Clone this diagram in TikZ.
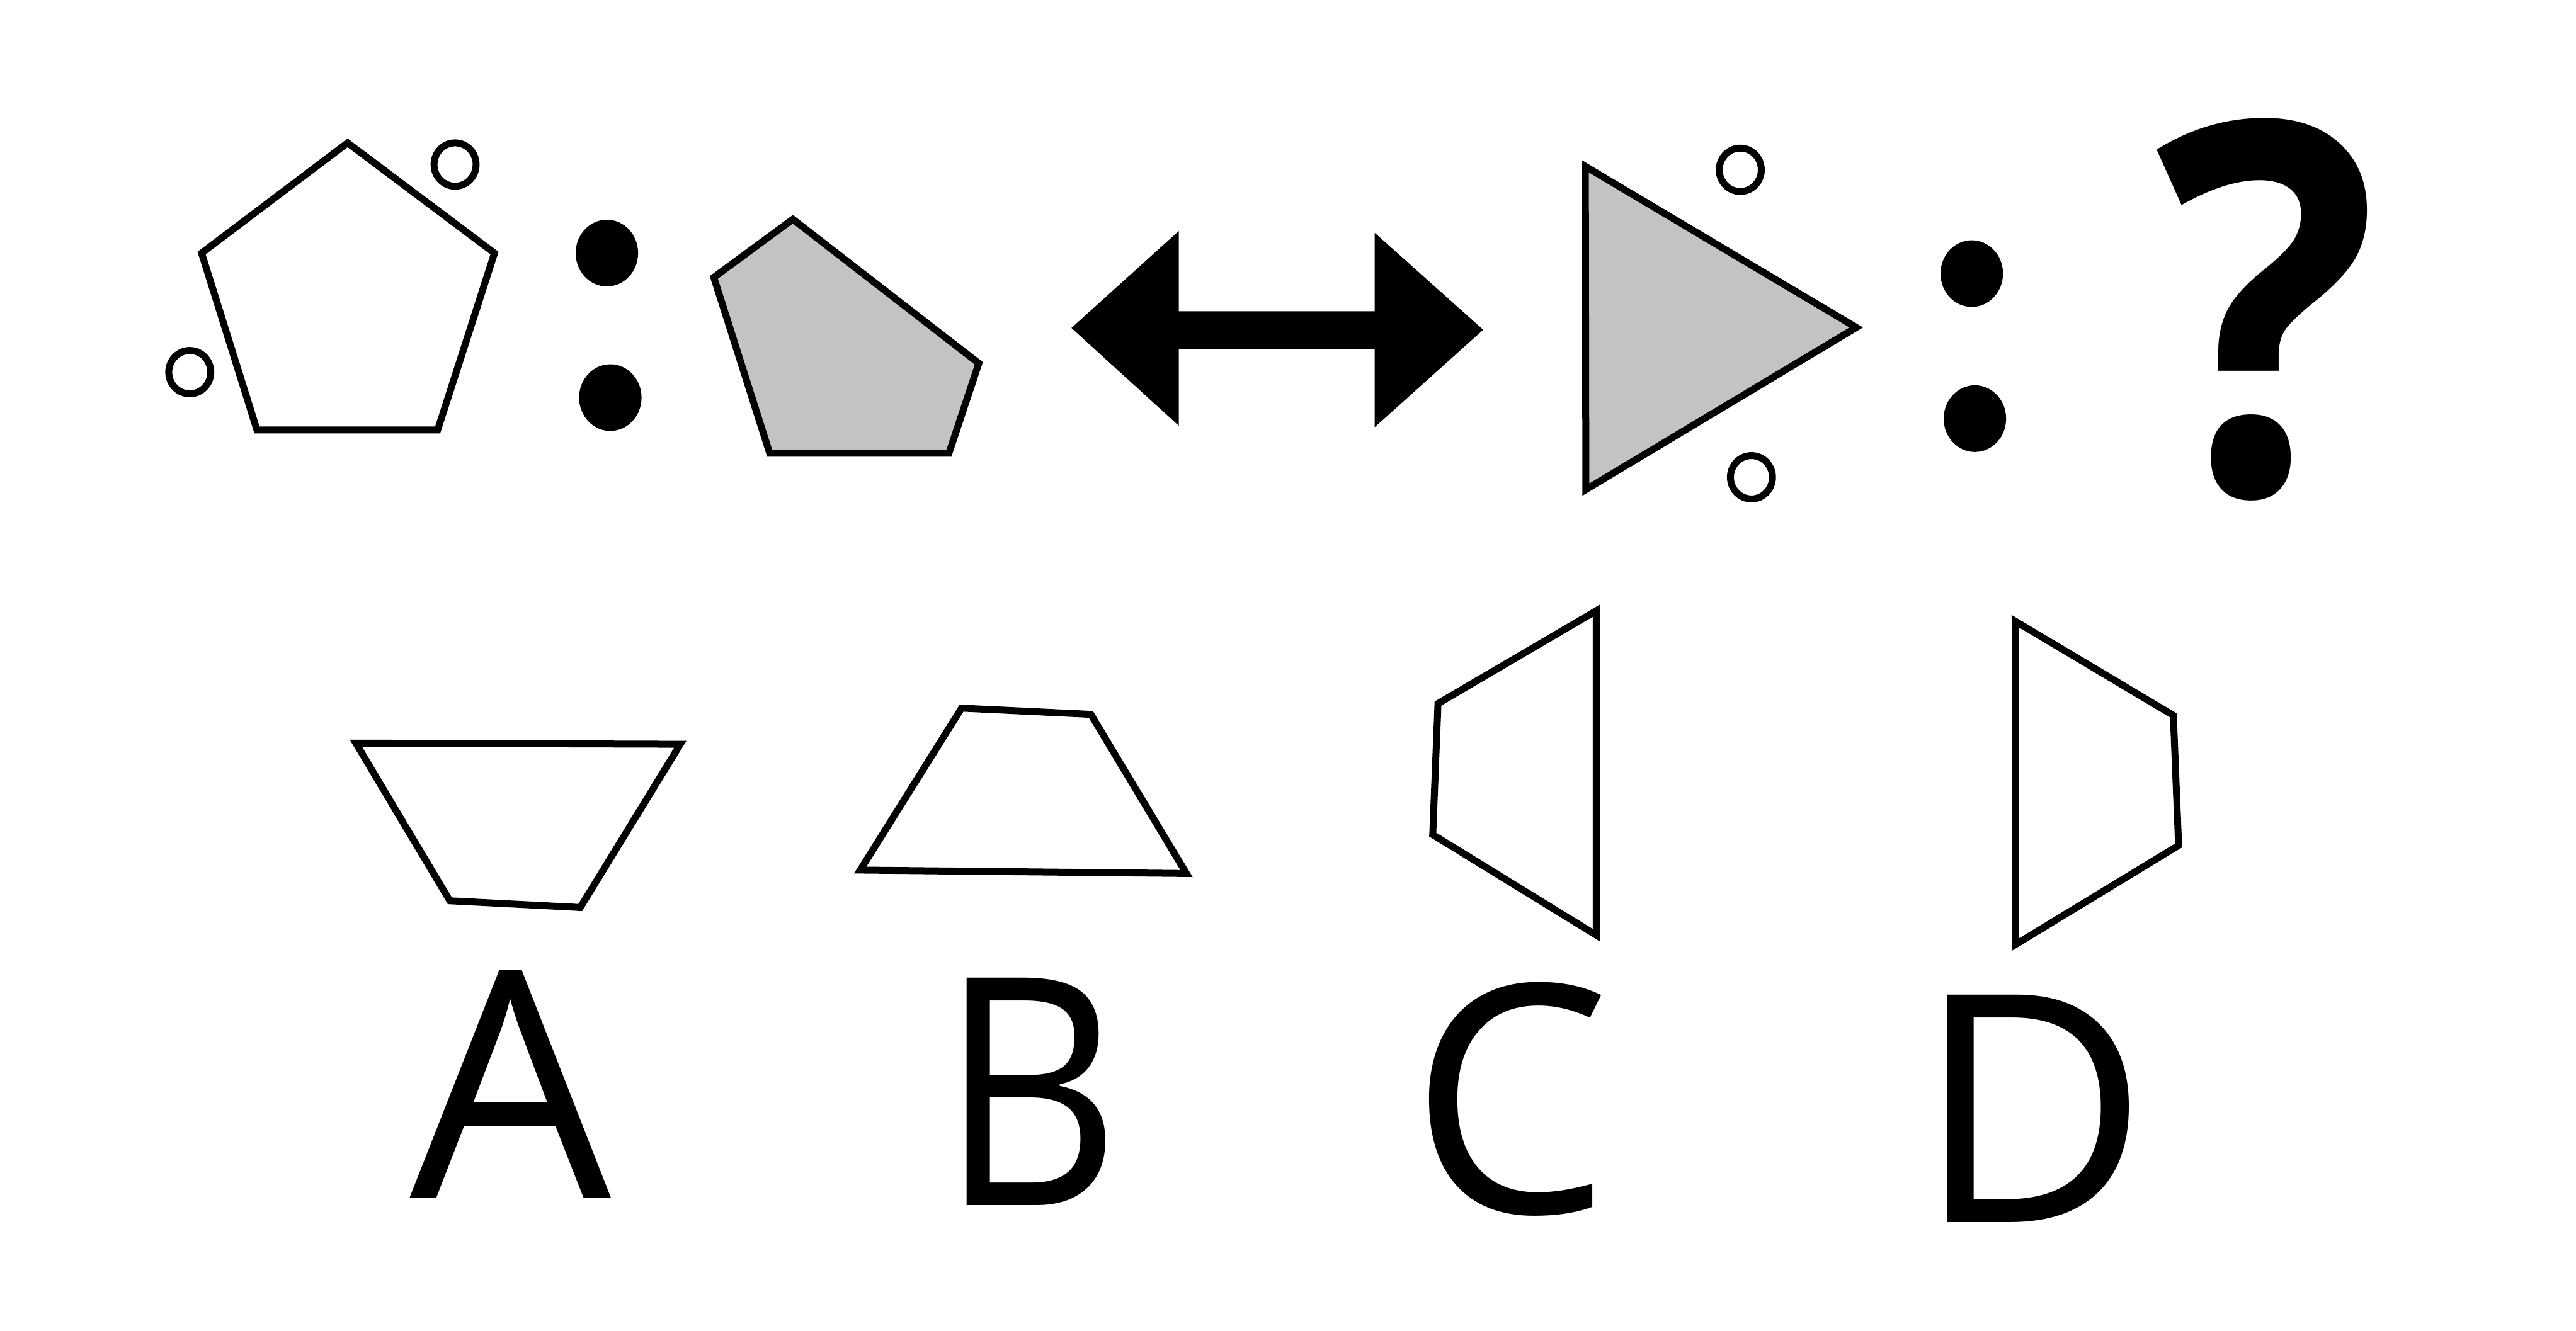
\documentclass[tikz,border=0pt]{standalone}
\usepackage{fontspec}
\setmainfont{Open Sans}
\definecolor{shapegray}{RGB}{195,195,195}

\begin{document}
\begin{tikzpicture}[x=0.1mm, y=-0.1mm,
        outline/.style={draw, line width=1.2pt},
        greyfill/.style={outline, fill=shapegray},
        ring/.style={draw, line width=1.2pt, x radius=1.28mm, y radius=1.32mm},
        bigdot/.style={fill=black, x radius=1.9mm, y radius=2.03mm},
        letter/.style={anchor=base, inner sep=0pt, font=\fontsize{55.2pt}{60pt}\selectfont}]
    \useasboundingbox (0,0) rectangle (1568,810.4);

    % first pair
    \draw[outline] (211.6,87) -- (301,154.1) -- (266.4,261.8) -- (156.4,261.8) -- (122.7,154.1) -- cycle;
    \draw[ring] (277,100.2) circle[];
    \draw[ring] (115.5,226.6) circle[];
    \fill[bigdot] (369.4,154.1) circle[];
    \fill[bigdot] (371.5,242.1) circle[];
    \draw[greyfill] (482.6,133.5) -- (595.8,221.2) -- (577.6,276) -- (468.5,276) -- (434.5,168.9) -- cycle;

    % double arrow
    \fill (652.2,199.7) -- (717.5,140.7) -- (717.5,189.5) -- (836.8,189.5) -- (836.8,141.8) -- (902.8,200.8)
        -- (836.8,260.1) -- (836.8,212.7) -- (717.5,212.7) -- (717.5,259.2) -- cycle;

    % second pair
    \draw[greyfill] (965,101.3) -- (1129.9,199.4) -- (965.3,298.1) -- cycle;
    \draw[ring] (1059.3,103.4) circle[];
    \draw[ring] (1066.1,290.6) circle[];
    \fill[bigdot] (1200.2,166.6) circle[];
    \fill[bigdot] (1202.1,254.9) circle[];
    \node[anchor=base, inner sep=0pt, xscale=0.9, font=\bfseries\fontsize{89.9pt}{95pt}\selectfont] (qmark) at (1380,300.6) {?};

    % answer options
    \draw[outline] (216.6,452.5) -- (414.1,453.2) -- (353.2,552.6) -- (273.8,548.5) -- cycle;
    \draw[outline] (585.3,431.2) -- (664,435) -- (722.2,531.9) -- (523.6,529.8) -- cycle;
    \draw[outline] (971.6,371.9) -- (971.6,569.4) -- (872.1,508.2) -- (875.3,428.4) -- cycle;
    \draw[outline] (1226.6,378.2) -- (1322.9,435.6) -- (1326.1,514.8) -- (1226.9,575.1) -- cycle;

    \node[letter] (optA) at (310.8,729.6) {A};
    \node[letter, xscale=0.88] (optB) at (627,733.9) {B};
    \node[letter] (optC) at (919.3,738.5) {C};
    \node[letter] (optD) at (1237.1,744.4) {D};
\end{tikzpicture}
\end{document}
